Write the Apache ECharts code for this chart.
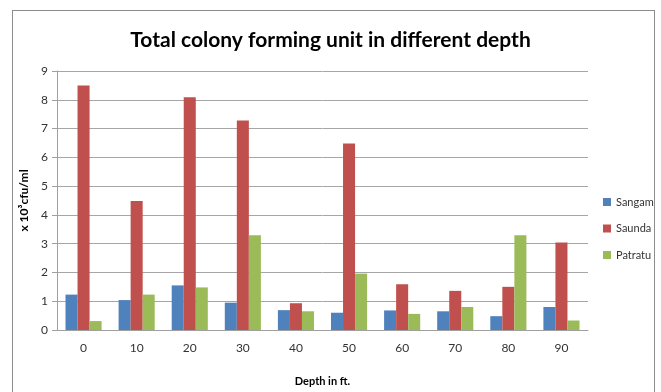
<!DOCTYPE html>
<html>
<head>
<meta charset="utf-8">
<script src="https://cdn.jsdelivr.net/npm/echarts@6/dist/echarts.min.js"></script>
<style>
  html, body { margin: 0; padding: 0; background: #fff; overflow: hidden; }
  #frame { position: absolute; left: 12px; top: 10px; width: 643px; height: 382px; border: 1px solid #8c8c8c; border-bottom: none; box-sizing: border-box; }
  #chart { width: 661px; height: 392px; position: absolute; left: 0; top: 0; }
</style>
</head>
<body>
<div id="frame"></div>
<div id="chart"></div>
<script>
// Depth categories (ft) and colony counts (x 10^3 cfu/ml) per site
const depths = ['0', '10', '20', '30', '40', '50', '60', '70', '80', '90'];
const sangam = [1.23, 1.04, 1.55, 0.95, 0.69, 0.60, 0.68, 0.65, 0.48, 0.80];
const saunda = [8.50, 4.48, 8.09, 7.28, 0.93, 6.48, 1.59, 1.36, 1.50, 3.04];
const patratu = [0.31, 1.23, 1.48, 3.29, 0.65, 1.96, 0.56, 0.80, 3.29, 0.33];

const font = 'Lato, "Open Sans", sans-serif';
const chart = echarts.init(document.getElementById('chart'));

function barSeries(name, data, color) {
  return {
    name: name,
    type: 'bar',
    data: data,
    barGap: '0%',
    barCategoryGap: '32%',
    itemStyle: { color: color },
    emphasis: { disabled: true }
  };
}

chart.setOption({
  animation: false,
  title: {
    text: 'Total colony forming unit in different depth',
    left: 'center',
    top: 25,
    textStyle: { fontFamily: font, fontSize: 21, fontWeight: 'bold', color: '#000' }
  },
  legend: {
    orient: 'vertical',
    left: 598,
    top: 190,
    itemWidth: 8,
    itemHeight: 8,
    itemGap: 12.5,
    icon: 'rect',
    textStyle: { fontFamily: font, fontSize: 11, lineHeight: 14, color: '#333' },
    data: ['Sangam', 'Saunda', 'Patratu']
  },
  grid: { left: 57, right: 73, top: 71, bottom: 58 },
  xAxis: {
    type: 'category',
    data: depths,
    name: 'Depth in ft.',
    nameLocation: 'middle',
    nameGap: 46,
    nameTextStyle: { fontFamily: font, fontSize: 11, fontWeight: 'bold', color: '#000' },
    axisLine: { lineStyle: { color: '#a0a0a0' } },
    axisTick: { show: false },
    axisLabel: { fontFamily: font, fontSize: 12, color: '#333', margin: 12 }
  },
  yAxis: {
    type: 'value',
    min: 0,
    max: 9,
    interval: 1,
    name: 'x 10³cfu/ml',
    nameLocation: 'middle',
    nameRotate: 90,
    nameGap: 21,
    nameTextStyle: { fontFamily: font, fontSize: 12, fontWeight: 'bold', color: '#000' },
    axisLine: { show: true, lineStyle: { color: '#a0a0a0' } },
    axisTick: { show: true, length: 5, lineStyle: { color: '#a0a0a0' } },
    axisLabel: { fontFamily: font, fontSize: 12, color: '#333', margin: 9 },
    splitLine: { lineStyle: { color: '#a6a6a6', width: 1 } }
  },
  series: [
    barSeries('Sangam', sangam, '#4F81BD'),
    barSeries('Saunda', saunda, '#C0504D'),
    barSeries('Patratu', patratu, '#9BBB59')
  ]
});
</script>
</body>
</html>
